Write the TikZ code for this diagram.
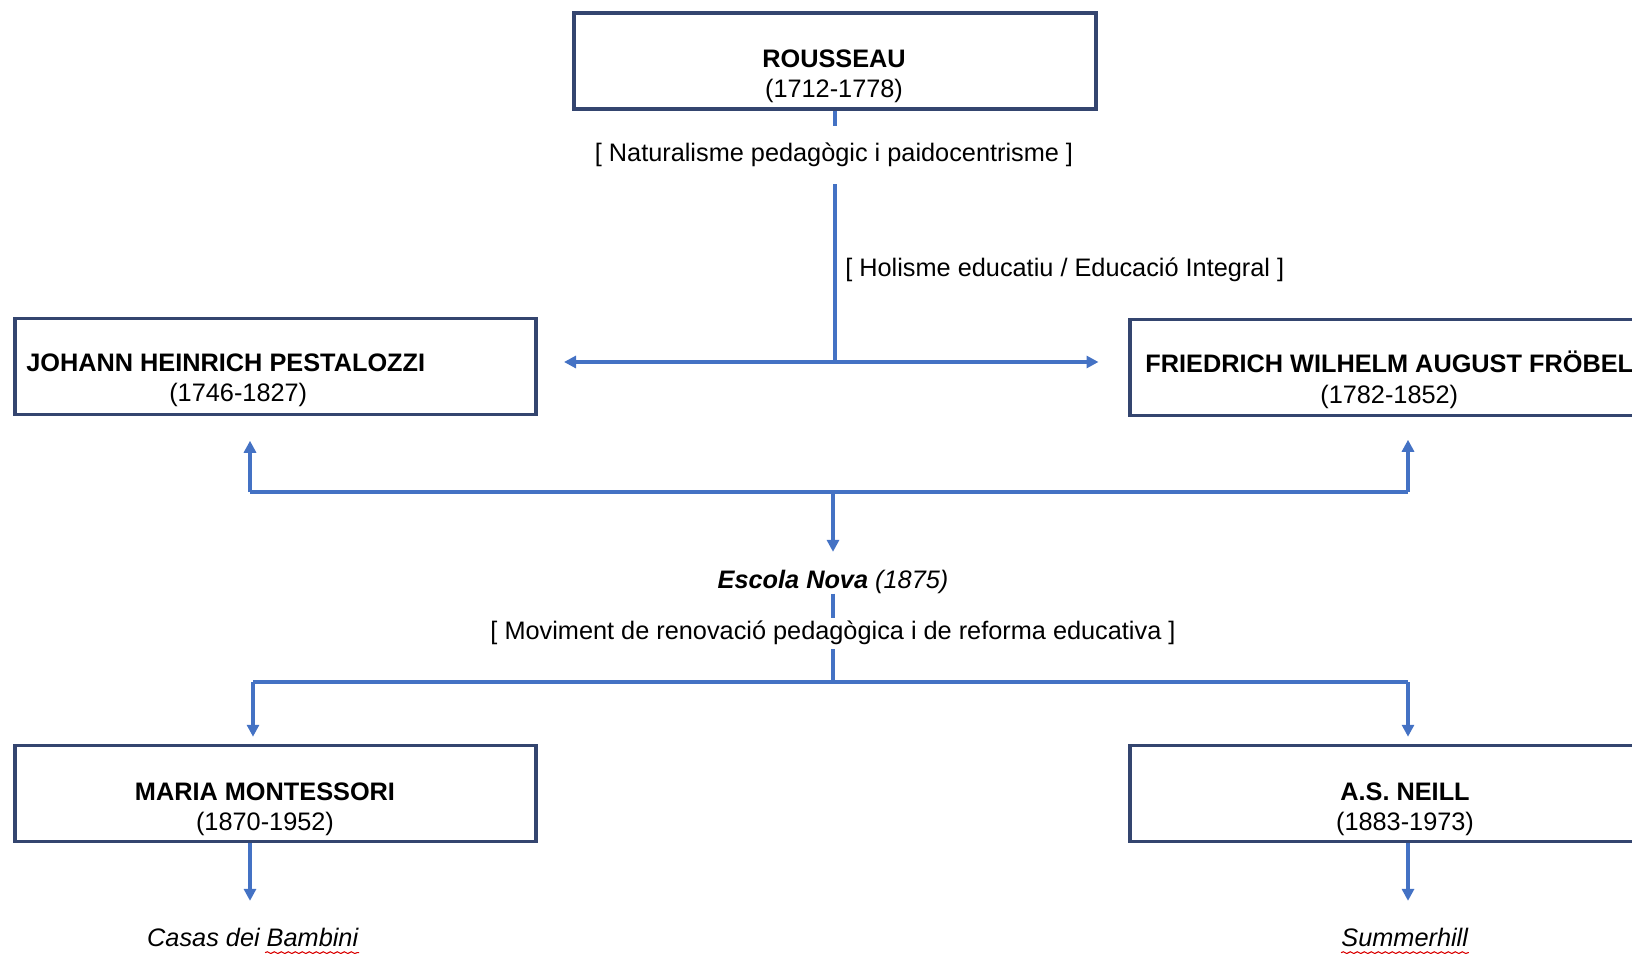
\documentclass[tikz,border=0pt]{standalone}
\usepackage{fontspec}
\setmainfont{Liberation Sans}
\usetikzlibrary{arrows.meta,positioning,calc,decorations.pathmorphing}
\definecolor{linkblue}{HTML}{4472C4}
\definecolor{boxnavy}{HTML}{34456F}

\begin{document}
\begin{tikzpicture}[
  font=\fontsize{14.4}{17.3}\selectfont,
  >={Triangle[length=2.4mm,width=2.4mm]},
  person/.style={draw=boxnavy,line width=2pt,minimum width=10.43cm,minimum height=1.92cm,inner sep=0pt},
  who/.style={align=center,inner sep=0pt},
  link/.style={draw=linkblue,line width=1.9pt},
  arr/.style={link,->},
  tag/.style={fill=white,inner xsep=2pt,inner ysep=0pt},
  spell/.style={draw=red!85!black,line width=0.6pt,decorate,decoration={snake,amplitude=0.5pt,segment length=1.4mm}}
]
\useasboundingbox (0,0) rectangle (32.64,-19.08);

\node[person] (rousseau) at (16.7,-1.215) {};
\node[who] (rousseauname) at (16.68,-1.52) {\textbf{ROUSSEAU}\\(1712-1778)};
\node[person] (pest) at (5.51,-7.33) {};
\node[who,anchor=west] (pestname) at (0.52,-7.60) {\textbf{JOHANN HEINRICH PESTALOZZI}\\\hspace*{5mm}(1746-1827)};
\node[person] (froebel) at (27.81,-7.35) {};
\node[who,anchor=west] (froebelname) at (22.9,-7.60) {\textbf{FRIEDRICH WILHELM AUGUST FRÖBEL}\\(1782-1852)};
\node[who] (escola) at (16.66,-11.63) {\textbf{\textit{Escola Nova}} \textit{(1875)}};
\node[person] (monte) at (5.51,-15.87) {};
\node[who] (montename) at (5.3,-16.18) {\textbf{MARIA MONTESSORI}\\(1870-1952)};
\node[person] (neill) at (27.81,-15.87) {};
\node[who] (neillname) at (28.1,-16.18) {\textbf{A.S. NEILL}\\(1883-1973)};
\node[who] (casas) at (5.06,-18.74) {\textit{Casas dei Bambini}};
\node[who] (summer) at (28.1,-18.74) {\textit{Summerhill}};

\coordinate (split) at (16.7,-7.24);
\coordinate (joinL) at (5.0,-9.84);
\coordinate (joinR) at (28.16,-9.84);
\coordinate (fork) at (16.66,-13.64);
\coordinate (forkL) at (5.06,-13.64);
\coordinate (forkR) at (28.16,-13.64);

\draw[link] (rousseau.south) -- (split);
\draw[arr,shorten >=5.2mm] (split) -- (split -| pest.east);
\draw[arr,shorten >=5.9mm] (split) -- (split -| froebel.west);
\node[tag,minimum height=1.15cm] (natura) at (16.68,-3.1) {[ Naturalisme pedagògic i paidocentrisme ]};
\node[anchor=west,inner sep=0pt] (holisme) at (16.9,-5.4) {[ Holisme educatiu / Educació Integral ]};

\draw[link] (joinL) -- (joinR);
\draw[arr,shorten >=4.9mm] (joinL) -- (joinL |- pest.south);
\draw[arr,shorten >=4.5mm] (joinR) -- (joinR |- froebel.south);
\draw[arr,shorten >=3.5mm] (joinL -| escola) -- (escola.north);

\draw[link] (escola.south) -- (fork);
\node[tag,minimum height=0.62cm] (moviment) at (16.66,-12.66) {[ Moviment de renovació pedagògica i de reforma educativa ]};
\draw[link] (forkL) -- (forkR);
\draw[arr,shorten >=1.4mm] (forkL) -- (forkL |- monte.north);
\draw[arr,shorten >=1.4mm] (forkR) -- (forkR |- neill.north);

\draw[arr,shorten >=5.3mm] (joinL |- monte.south) -- (joinL |- casas.north);
\draw[arr,shorten >=5.3mm] (joinR |- neill.south) -- (joinR |- summer.north);
\draw[spell] ([xshift=-18.8mm,yshift=-1.2mm]casas.south east) -- ([yshift=-1.2mm]casas.south east);
\draw[spell] ([yshift=-1.2mm]summer.south west) -- ([yshift=-1.2mm]summer.south east);
\end{tikzpicture}
\end{document}
